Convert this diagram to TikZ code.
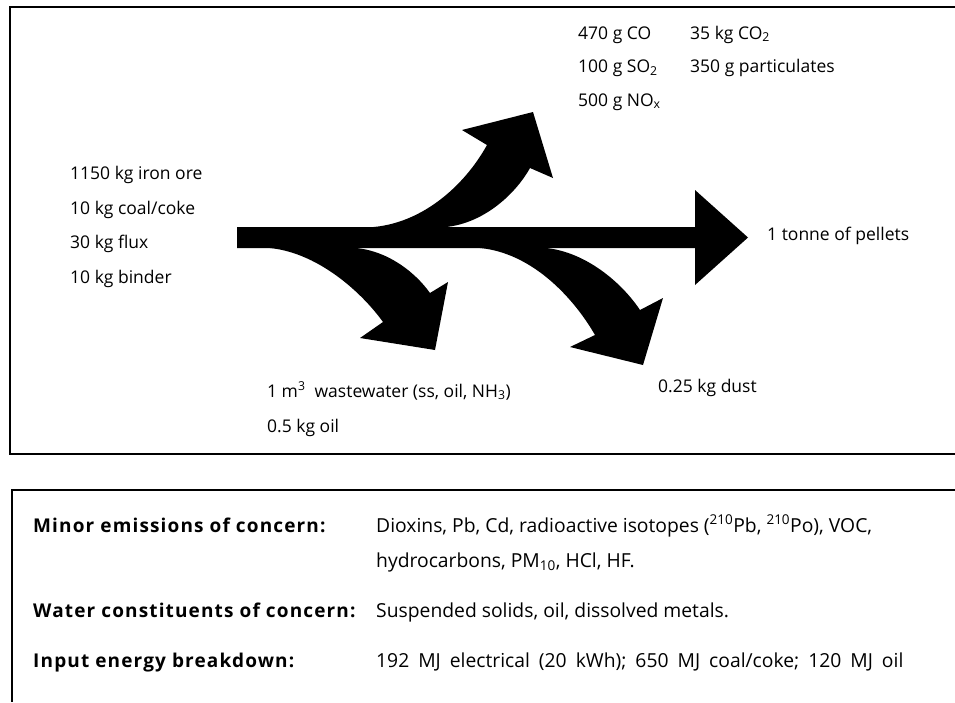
\documentclass[tikz,border=0pt]{standalone}
\usepackage{fontspec}
\setmainfont{Open Sans}
\begin{document}
\begin{tikzpicture}[x=1pt,y=-1pt,
  frame/.style={line width=1.3pt,black},
  flow/.style={fill=black,draw=none},
  lbl/.style={anchor=base west,inner sep=0pt,font=\fontsize{17.5}{20}\selectfont},
  note/.style={anchor=base west,inner sep=0pt,font=\fontsize{19.3}{22}\selectfont},
  key/.style={anchor=base west,inner sep=0pt,
    font=\fontsize{19}{22}\selectfont\bfseries\addfontfeatures{LetterSpace=6}}]
\useasboundingbox (0,0) rectangle (955,702);

% upper panel frame (open on the right)
\draw[frame] (955,7) -- (10,7) -- (10,454) -- (955,454);
% lower panel frame (open on the right and bottom)
\draw[frame] (955,490) -- (12,490) -- (12,702);

% main stream with arrow head
\fill[flow] (237,227) -- (695,227) -- (695,190) -- (748,237.5) -- (695,285)
  -- (695,248) -- (237,248) -- cycle;

% branch up to air emissions
\fill[flow] (363,227.5) .. controls (420,227.5) and (465,185) .. (487,145)
  -- (462,130) -- (533,112) -- (553,178) -- (530,168)
  .. controls (515,195) and (480,227.5) .. (437,227.5) -- cycle;

% branch down to wastewater
\fill[flow] (260,247.5) .. controls (312,247.5) and (360,290) .. (383,322)
  -- (360,338) -- (435,350) -- (448,282) -- (430,293)
  .. controls (415,272) and (385,247.5) .. (347,247.5) -- cycle;

% branch down to dust
\fill[flow] (470,247.5) .. controls (530,247.5) and (575,300) .. (595,335)
  -- (570,347) -- (643,365) -- (663,298) -- (640,310)
  .. controls (620,280) and (580,247.5) .. (537,247.5) -- cycle;

% inputs
\node[lbl] (in1) at (70,179) {1150 kg iron ore};
\node[lbl] (in2) at (70,214) {10 kg coal/coke};
\node[lbl] (in3) at (70,248.5) {30 kg flux};
\node[lbl] (in4) at (70,283) {10 kg binder};

% air emissions
\node[lbl] (air1) at (578,39) {470 g CO};
\node[lbl] (air2) at (690,39) {35 kg CO\textsubscript{2}};
\node[lbl] (air3) at (578,72.5) {100 g SO\textsubscript{2}};
\node[lbl] (air4) at (690,72.5) {350 g particulates};
\node[lbl] (air5) at (578,106) {500 g NO\textsubscript{x}};

% product
\node[lbl] (prod) at (767,240) {1 tonne of pellets};

% water and solid outputs
\node[lbl] (wat1) at (267,397) {1 m\textsuperscript{3}\ \ wastewater (ss, oil, NH\textsubscript{3})};
\node[lbl] (wat2) at (267,432) {0.5 kg oil};
\node[lbl] (dust) at (658,392) {0.25 kg dust};

% notes panel
\node[key] (k1) at (33,532) {Minor emissions of concern:};
\node[note] (v1a) at (376,532) {Dioxins, Pb, Cd, radioactive isotopes (\textsuperscript{210}Pb, \textsuperscript{210}Po), VOC,};
\node[note] (v1b) at (376,567) {hydrocarbons, PM\textsubscript{10}, HCl, HF.};
\node[key] (k2) at (33,617) {Water constituents of concern:};
\node[note] (v2) at (376,617) {Suspended solids, oil, dissolved metals.};
\node[key] (k3) at (33,667) {Input energy breakdown:};
\node[note] (v3) at (376,667)
  {\spaceskip=9pt\relax 192 MJ electrical (20 kWh); 650 MJ coal/coke; 120 MJ oil};
\end{tikzpicture}
\end{document}
